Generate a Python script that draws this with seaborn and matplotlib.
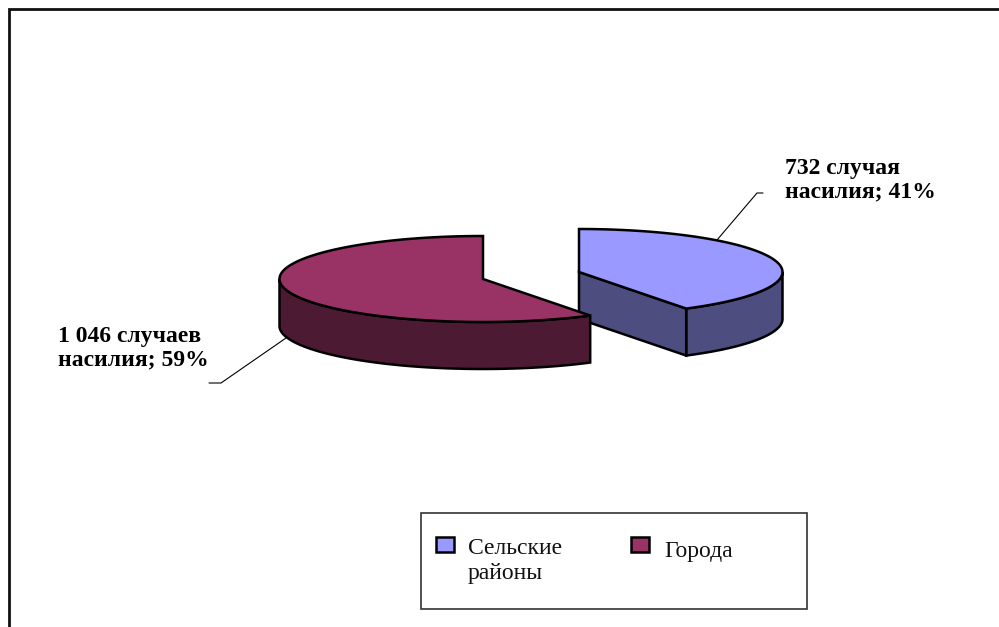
import numpy as np
import seaborn as sns
import matplotlib.pyplot as plt
from matplotlib.patches import Rectangle

categories = ['Сельские\nрайоны', 'Города']
cases = [732, 1046]
data_labels = ['732 случая\nнасилия; 41%', '1 046 случаев\nнасилия; 59%']
top_colors = ['#9999FF', '#993366']
side_colors = ['#4D4D80', '#4D1A33']

sns.set_theme(style="white")
plt.rcParams['font.family'] = ['Liberation Serif', 'DejaVu Serif']

fig = plt.figure(figsize=(9.99, 6.27), dpi=100)
ax = fig.add_axes([0, 0, 1, 1])
ax.set_xlim(0, 999)
ax.set_ylim(627, 0)
ax.axis('off')

# page frame, only top and left are visible
ax.plot([9, 9, 999], [627, 9, 9], color='#111111', lw=2, solid_joinstyle='miter')

# pie geometry in pixels
a, b, depth = 203.5, 43, 47
centers = [(579, 272), (483, 279)]


def ell(cx, cy, t):
    return cx + a * np.sin(t), cy - b * np.cos(t)


share = np.array(cases) / sum(cases)
stops = np.cumsum(share) * 2 * np.pi
starts = stops - share * 2 * np.pi

for i in range(2):
    cx, cy = centers[i]
    t = np.linspace(starts[i], stops[i], 200)
    x, y = ell(cx, cy, t)

    # outer wall, only the front half of the ellipse shows
    t_w = np.linspace(max(starts[i], np.pi / 2), min(stops[i], 3 * np.pi / 2), 200)
    xw, yw = ell(cx, cy, t_w)
    ax.fill(np.r_[xw, xw[::-1]], np.r_[yw, yw[::-1] + depth],
            fc=side_colors[i], ec='black', lw=1.8, zorder=2 + i * 3)

    # cut wall of the right slice faces the viewer
    if i == 0:
        ax.fill([cx, x[-1], x[-1], cx], [cy, y[-1], y[-1] + depth, cy + depth],
                fc=side_colors[i], ec='black', lw=1.8, zorder=2)

    ax.fill(np.r_[cx, x], np.r_[cy, y], fc=top_colors[i], ec='black', lw=1.8,
            joinstyle='miter', zorder=3 + i * 3)

# leader lines
ax.plot([717, 757, 763], [240, 193, 193], color='black', lw=0.8, zorder=1)
ax.plot([286, 221, 209], [338, 383, 383], color='black', lw=0.8, zorder=1)

ax.text(785, 197, data_labels[0], fontsize=17, fontweight='bold', color='black',
        ha='left', va='baseline', linespacing=1.15)
ax.text(58, 365, data_labels[1], fontsize=17, fontweight='bold', color='black',
        ha='left', va='baseline', linespacing=1.15)

# legend box, swatch sits on the first text line
ax.add_patch(Rectangle((421, 513), 386, 96, fc='white', ec='#333333', lw=1.2))
swatch_x = [436, 631]
text_x = [468, 664]
text_y = [554, 557]
for i in range(2):
    ax.add_patch(Rectangle((swatch_x[i], 537), 18, 15, fc=top_colors[i], ec='black', lw=1.8))
    ax.text(text_x[i], text_y[i], categories[i].split('\n')[0], fontsize=17, color='#111111',
            ha='left', va='baseline')
ax.text(text_x[0], text_y[0] + 25, categories[0].split('\n')[1], fontsize=17, color='#111111',
        ha='left', va='baseline')

plt.savefig('out.png', dpi=100)
